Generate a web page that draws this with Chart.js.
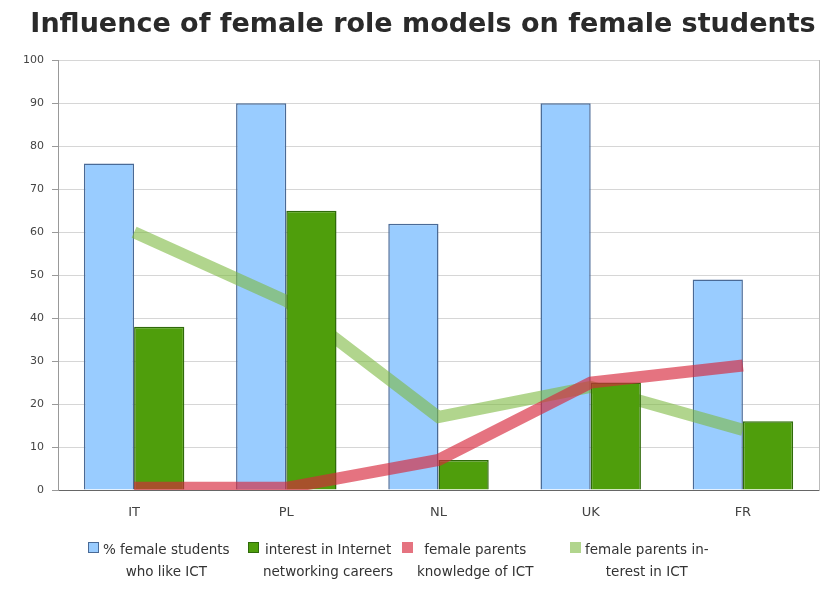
<!DOCTYPE html>
<html>
<head>
<meta charset="utf-8">
<script src="https://cdn.jsdelivr.net/npm/chart.js@4"></script>
<style>
  html, body { margin: 0; padding: 0; background: #fff; }
  #wrap { position: relative; width: 827px; height: 610px; }
  #legend { position: absolute; left: 0; top: 0; width: 827px; height: 610px; pointer-events: none;
            font-family: 'DejaVu Sans', sans-serif; font-size: 13.5px; color: #333; }
  .item { position: absolute; top: 538px; }
  .box { position: absolute; left: 0; top: 4px; width: 11px; height: 11px; box-sizing: border-box; }
  .txt { position: absolute; left: 15px; top: 0; text-align: center; line-height: 22px; white-space: nowrap; }
</style>
</head>
<body>
<div id="wrap">
  <canvas id="c" width="827" height="610"></canvas>
  <div id="legend"></div>
</div>
<script>
const countries = ['IT', 'PL', 'NL', 'UK', 'FR'];
const likeICT = [76, 90, 62, 90, 49];              // % female students who like ICT
const netCareers = [38, 65, 7, 25, 16];            // interest in Internet networking careers
const parentsKnowledge = [0.5, 0.5, 7, 25, 29];    // female parents knowledge of ICT
const parentsInterest = [60, 44, 17, 24, 14];      // female parents interest in ICT
const yTicks = [0, 10, 20, 30, 40, 50, 60, 70, 80, 90, 100];
const seriesNames = [
  ['% female students', 'who like ICT'],
  ['interest in Internet', 'networking careers'],
  ['female parents', 'knowledge of ICT'],
  ['female parents in-', 'terest in ICT']
];

const ctx = document.getElementById('c').getContext('2d');
const font = 'DejaVu Sans';

// the green bars are held back and drawn right after the light green line,
// so that line sits over the blue bars but under the green ones
const layerPlugin = {
  id: 'layer',
  afterLayout(chart) {
    // title sits a little right of the canvas centre in the original
    if (chart.titleBlock) {
      chart.titleBlock.left = 27;
      chart.titleBlock.right = 819;
    }
  },
  beforeDatasetDraw(chart, args) {
    if (args.index === 1) return false;
  },
  afterDatasetDraw(chart, args) {
    if (args.index === 3) {
      const a = chart.chartArea;
      const c = chart.ctx;
      c.save();
      c.beginPath();
      c.rect(a.left, a.top, a.right - a.left, a.bottom - a.top);
      c.clip();
      chart.getDatasetMeta(1).controller.draw();
      c.restore();
    }
  }
};

const chart = new Chart(ctx, {
  type: 'bar',
  data: {
    labels: countries,
    datasets: [
      {
        label: seriesNames[0].join(' '),
        data: likeICT,
        backgroundColor: '#99ccff',
        borderColor: '#4a6a96',
        borderWidth: 1.5,
        order: 2
      },
      {
        label: seriesNames[1].join(' '),
        data: netCareers,
        backgroundColor: '#4f9e0c',
        borderColor: '#2f6a0a',
        borderWidth: 1.5,
        order: 3
      },
      {
        type: 'line',
        label: seriesNames[2].join(' '),
        data: parentsKnowledge,
        borderColor: 'rgba(215, 40, 60, 0.65)',
        backgroundColor: 'rgba(215, 40, 60, 0.65)',
        borderWidth: 12,
        pointRadius: 0,
        tension: 0,
        fill: false,
        order: 0
      },
      {
        type: 'line',
        label: seriesNames[3].join(' '),
        data: parentsInterest,
        borderColor: 'rgba(125, 185, 65, 0.6)',
        backgroundColor: 'rgba(125, 185, 65, 0.6)',
        borderWidth: 12,
        pointRadius: 0,
        tension: 0,
        fill: false,
        order: 1
      }
    ]
  },
  plugins: [layerPlugin],
  options: {
    responsive: false,
    animation: false,
    layout: { padding: { left: 0, right: 8, top: 0, bottom: 72 } },
    datasets: {
      bar: { barPercentage: 1, categoryPercentage: 0.66 }
    },
    plugins: {
      title: {
        display: true,
        text: 'Influence of female role models on female students',
        color: '#2a2a2a',
        font: { family: font, size: 27, weight: 'bold' },
        padding: { top: 9, bottom: 19 }
      },
      legend: { display: false },
      tooltip: { enabled: false }
    },
    scales: {
      x: {
        grid: { display: false },
        border: { color: '#666', width: 1 },
        ticks: { color: '#444', font: { family: font, size: 13 }, padding: 7 },
        afterFit: (s) => { s.height = 48; }
      },
      y: {
        min: 0,
        max: 100,
        afterBuildTicks: (s) => { s.ticks = yTicks.map(v => ({ value: v })); },
        grid: { color: '#d6d6d6', tickLength: 6, tickColor: '#999' },
        border: { color: '#999', width: 1 },
        ticks: { color: '#444', font: { family: font, size: 11 }, padding: 8 },
        afterFit: (s) => { s.width = 58; }
      },
      y2: {
        position: 'right',
        min: 0,
        max: 100,
        grid: { display: false, drawTicks: false },
        border: { color: '#bbb', width: 1 },
        ticks: { display: false },
        afterFit: (s) => { s.width = 0; }
      }
    }
  }
});

// legend built from the chart's own datasets
const legendLeft = [88, 248, 402, 570];
const legend = document.getElementById('legend');
seriesNames.forEach((name, i) => {
  const ds = chart.data.datasets[i];
  const item = document.createElement('div');
  item.className = 'item';
  item.style.left = legendLeft[i] + 'px';
  const box = document.createElement('div');
  box.className = 'box';
  box.style.background = ds.backgroundColor;
  if (ds.type !== 'line') box.style.border = '1px solid ' + ds.borderColor;
  const txt = document.createElement('div');
  txt.className = 'txt';
  txt.innerHTML = name.join('<br>');
  item.appendChild(box);
  item.appendChild(txt);
  legend.appendChild(item);
});
</script>
</body>
</html>
